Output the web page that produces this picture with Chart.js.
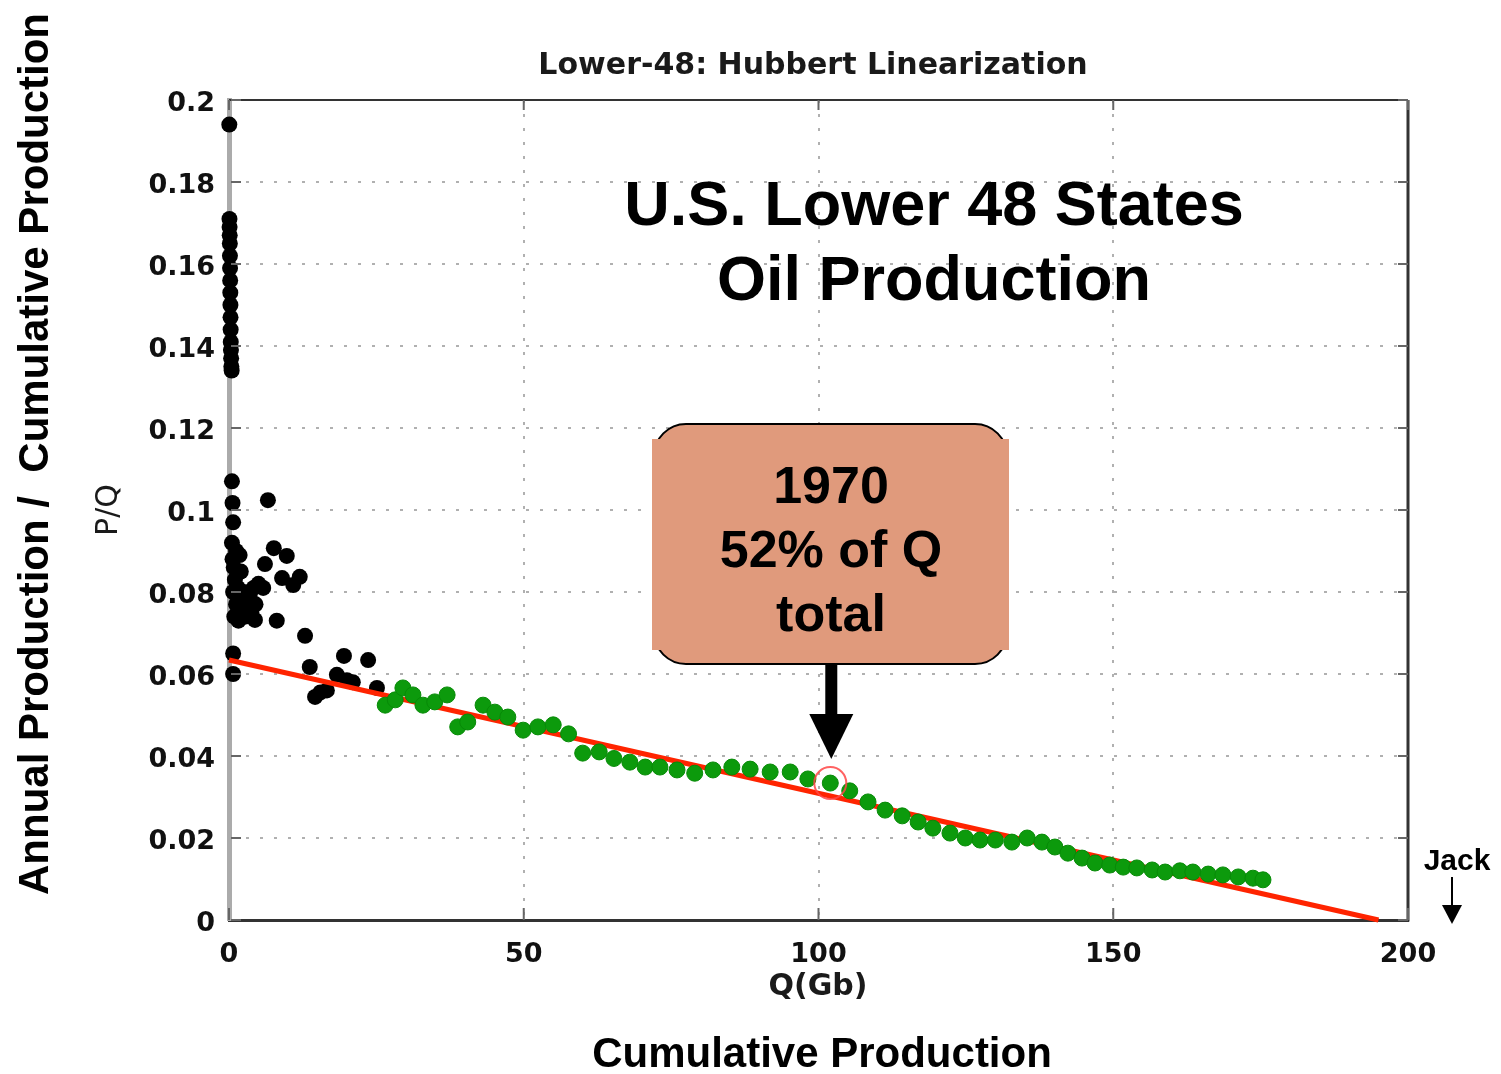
<!DOCTYPE html>
<html><head><meta charset="utf-8">
<script src="https://cdn.jsdelivr.net/npm/chart.js@4.4.1/dist/chart.umd.min.js"></script>
<style>html,body{margin:0;padding:0;background:#fff;}canvas{display:block;}</style>
</head><body>
<canvas id="c" width="1501" height="1074"></canvas>
<script>
// ---- data ----
const earlyQ = [0.05,
  0.08,0.1,0.12,0.14,0.16,0.18,0.2,0.22,0.24,0.26,0.28,0.3,0.33,0.36,0.4,0.45,
  0.5,0.6,0.7,6.6,
  0.5,1.2,0.6,1.8,0.8,2.0,1.0,1.5,2.5,0.7,3.0,1.2,2.2,3.5,4.2,5.0,5.8,4.5,3.8,0.9,1.6,2.8,4.4,
  6.1,7.6,9.8,12.0,9.0,10.9,8.1,0.7,0.7,12.9,13.7,14.6,16.6,18.3,19.5,21.0,23.6,25.1,15.5,20.0];
const earlyPQ = [0.194,
  0.171,0.169,0.167,0.165,0.162,0.159,0.156,0.153,0.150,0.147,0.144,0.141,0.139,0.137,0.135,0.134,
  0.107,0.1017,0.097,0.1024,
  0.092,0.090,0.088,0.089,0.086,0.085,0.083,0.081,0.080,0.080,0.078,0.077,0.076,0.079,0.081,0.082,0.081,0.077,0.075,0.074,0.073,0.074,0.0732,
  0.0868,0.0907,0.0888,0.0837,0.0834,0.0817,0.073,0.065,0.060,0.0693,0.0617,0.0544,0.056,0.0598,0.0644,0.058,0.0634,0.0566,0.0555,0.0585];
const lateQ = [26.5,28.2,29.5,31.2,32.9,34.9,37.0,38.8,40.5,43.1,45.1,47.3,49.9,52.4,55.0,57.6,60.0,62.8,65.3,68.0,
  70.6,73.1,76.0,79.0,82.1,85.3,88.4,91.8,95.2,98.2,102.0,105.3,108.4,111.3,114.2,116.9,119.4,122.3,124.9,127.4,
  130.0,132.8,135.4,137.9,140.1,142.3,144.7,146.9,149.4,151.7,154.0,156.6,158.8,161.3,163.5,166.1,168.6,171.2,173.7,175.4];
const latePQ = [0.0524,0.0537,0.0566,0.0549,0.0524,0.0532,0.0549,0.0471,0.0483,0.0524,0.0507,0.0495,0.0463,0.0471,0.0476,0.0454,0.0407,0.0410,0.0394,0.0385,
  0.0373,0.0373,0.0366,0.0358,0.0366,0.0373,0.0368,0.0361,0.0361,0.0344,0.0334,0.0315,0.0288,0.0268,0.0254,0.0239,0.0224,0.0212,0.0200,0.0195,
  0.0195,0.0190,0.0200,0.0190,0.0178,0.0163,0.0151,0.0139,0.0134,0.0129,0.0127,0.0122,0.0117,0.0120,0.0117,0.0112,0.0110,0.0105,0.0102,0.0098];
const fitQ = [0, 195];
const fitPQ = [0.0634, 0];
const highlightQ = [102.0];
const highlightPQ = [0.0334];

const xTicks = [0, 50, 100, 150, 200];
const xTickLabels = ['0', '50', '100', '150', '200'];
const yTicks = [0, 0.02, 0.04, 0.06, 0.08, 0.1, 0.12, 0.14, 0.16, 0.18, 0.2];
const yTickLabels = ['0', '0.02', '0.04', '0.06', '0.08', '0.1', '0.12', '0.14', '0.16', '0.18', '0.2'];

const chartTitle = 'Lower-48: Hubbert Linearization';
const xAxisTitle = 'Q(Gb)';
const yAxisTitle = 'P/Q';
const headline = ['U.S. Lower 48 States', 'Oil Production'];
const boxLines = ['1970', '52% of Q', 'total'];
const outerXTitle = 'Cumulative Production';
const outerYTitle = 'Annual Production /  Cumulative Production';
const cornerNote = 'Jack';

const pts = (xs, ys) => xs.map((x, i) => ({x: x, y: ys[i]}));

function text(ctx, s, x, y, font, color, rot) {
  ctx.save();
  ctx.translate(x, y);
  if (rot) ctx.rotate(rot);
  ctx.font = font;
  ctx.fillStyle = color;
  ctx.textAlign = 'center';
  ctx.textBaseline = 'alphabetic';
  ctx.fillText(s, 0, 0);
  ctx.restore();
}

const decor = {
  id: 'decor',
  afterDraw(chart) {
    const ctx = chart.ctx;
    const a = chart.chartArea;
    const xs = chart.scales.x, ys = chart.scales.y;
    ctx.save();
    // top & right frame
    ctx.strokeStyle = '#333';
    ctx.lineWidth = 2;
    ctx.beginPath(); ctx.moveTo(a.left, a.top); ctx.lineTo(a.right, a.top); ctx.stroke();
    ctx.lineWidth = 3;
    ctx.beginPath(); ctx.moveTo(a.right, a.top); ctx.lineTo(a.right, a.bottom + 1.5); ctx.stroke();
    // inward tick marks
    ctx.strokeStyle = '#666';
    ctx.lineWidth = 2;
    ys.ticks.forEach(t => {
      const p = ys.getPixelForValue(t.value);
      ctx.beginPath(); ctx.moveTo(a.left + 2, p); ctx.lineTo(a.left + 12, p); ctx.stroke();
      ctx.beginPath(); ctx.moveTo(a.right - 10, p); ctx.lineTo(a.right, p); ctx.stroke();
    });
    xs.ticks.forEach(t => {
      const p = xs.getPixelForValue(t.value);
      ctx.beginPath(); ctx.moveTo(p, a.bottom); ctx.lineTo(p, a.bottom - 12); ctx.stroke();
      ctx.beginPath(); ctx.moveTo(p, a.top); ctx.lineTo(p, a.top + 10); ctx.stroke();
    });
    ctx.restore();

    // MATLAB style texts
    text(ctx, chartTitle, 813, 74, 'bold 30px "DejaVu Sans"', '#1a1a1a');
    text(ctx, xAxisTitle, 818, 995, 'bold 30px "DejaVu Sans"', '#1a1a1a');
    text(ctx, yAxisTitle, 117, 510, '30px "DejaVu Sans"', '#1a1a1a', -Math.PI / 2);

    // overlay texts
    text(ctx, headline[0], 934, 225, 'bold 63px "Liberation Sans", Arial, sans-serif', '#000');
    text(ctx, headline[1], 934, 300, 'bold 63px "Liberation Sans", Arial, sans-serif', '#000');
    text(ctx, outerXTitle, 822, 1067, 'bold 42px "Liberation Sans", Arial, sans-serif', '#000');
    text(ctx, outerYTitle, 48, 454, 'bold 42px "Liberation Sans", Arial, sans-serif', '#000', -Math.PI / 2);

    // callout box
    const fill = '#E09A7C';
    ctx.save();
    ctx.beginPath();
    ctx.roundRect(654, 424, 353, 240, 32);
    ctx.fillStyle = fill;
    ctx.fill();
    ctx.strokeStyle = '#000';
    ctx.lineWidth = 2;
    ctx.stroke();
    ctx.fillRect(652, 439, 357, 211);
    ctx.restore();
    text(ctx, boxLines[0], 831, 503, 'bold 52px "Liberation Sans", Arial, sans-serif', '#000');
    text(ctx, boxLines[1], 831, 567, 'bold 52px "Liberation Sans", Arial, sans-serif', '#000');
    text(ctx, boxLines[2], 831, 631, 'bold 52px "Liberation Sans", Arial, sans-serif', '#000');

    // arrow from box to the 1970 point
    const ax = xs.getPixelForValue(highlightQ[0]) + 1;
    ctx.save();
    ctx.fillStyle = '#000';
    ctx.fillRect(ax - 6, 664, 12, 52);
    ctx.beginPath();
    ctx.moveTo(ax - 22, 714); ctx.lineTo(ax + 22, 714); ctx.lineTo(ax, 759); ctx.closePath();
    ctx.fill();
    ctx.restore();

    // Jack note
    text(ctx, cornerNote, 1457, 870, 'bold 30px "Liberation Sans", Arial, sans-serif', '#000');
    ctx.save();
    ctx.strokeStyle = '#000';
    ctx.fillStyle = '#000';
    ctx.lineWidth = 2;
    ctx.beginPath(); ctx.moveTo(1452, 877); ctx.lineTo(1452, 907); ctx.stroke();
    ctx.beginPath(); ctx.moveTo(1442, 905); ctx.lineTo(1462, 905); ctx.lineTo(1452, 924); ctx.closePath(); ctx.fill();
    ctx.restore();
  }
};

const gridCommon = {color: '#b0b0b0', lineWidth: 2, drawTicks: false};

new Chart(document.getElementById('c'), {
  type: 'scatter',
  data: {
    datasets: [
      {label: 'early', data: pts(earlyQ, earlyPQ), pointRadius: 8, pointHoverRadius: 8,
       backgroundColor: '#000', borderColor: '#000', borderWidth: 0, order: 3, clip: false},
      {label: 'fit', type: 'line', data: pts(fitQ, fitPQ), showLine: true, borderColor: '#ff2400',
       borderWidth: 5, pointRadius: 0, fill: false, order: 2, clip: false},
      {label: 'late', data: pts(lateQ, latePQ), pointRadius: 8, pointHoverRadius: 8,
       backgroundColor: '#0c9a0c', borderColor: '#078a07', borderWidth: 1, order: 1, clip: false},
      {label: '1970', data: pts(highlightQ, highlightPQ), pointRadius: 16, pointHoverRadius: 16,
       backgroundColor: 'rgba(0,0,0,0)', borderColor: 'rgba(255,70,70,0.85)', borderWidth: 2, order: 0, clip: false}
    ]
  },
  options: {
    responsive: false,
    devicePixelRatio: 1,
    animation: false,
    layout: {padding: {left: 0, top: 100, right: 93, bottom: 0}},
    plugins: {legend: {display: false}, tooltip: {enabled: false}, title: {display: false}},
    scales: {
      x: {
        type: 'linear', min: 0, max: 200,
        afterBuildTicks: s => { s.ticks = xTicks.map(v => ({value: v})); },
        afterFit: s => { s.height = 154; },
        ticks: {callback: (v, i) => xTickLabels[i], font: {family: 'DejaVu Sans', weight: 'bold', size: 27},
                color: '#111', padding: 19, maxRotation: 0, autoSkip: false},
        grid: gridCommon,
        border: {display: true, color: '#333', width: 3, dash: [3, 11]}
      },
      y: {
        type: 'linear', min: 0, max: 0.2,
        afterBuildTicks: s => { s.ticks = yTicks.map(v => ({value: v})); },
        afterFit: s => { s.width = 229; },
        ticks: {callback: (v, i) => yTickLabels[i], font: {family: 'DejaVu Sans', weight: 'bold', size: 27},
                color: '#111', padding: 14, labelOffset: 4, autoSkip: false},
        grid: gridCommon,
        border: {display: true, color: '#ababab', width: 5, dash: [3, 11]}
      }
    }
  },
  plugins: [decor]
});
</script>
</body></html>
